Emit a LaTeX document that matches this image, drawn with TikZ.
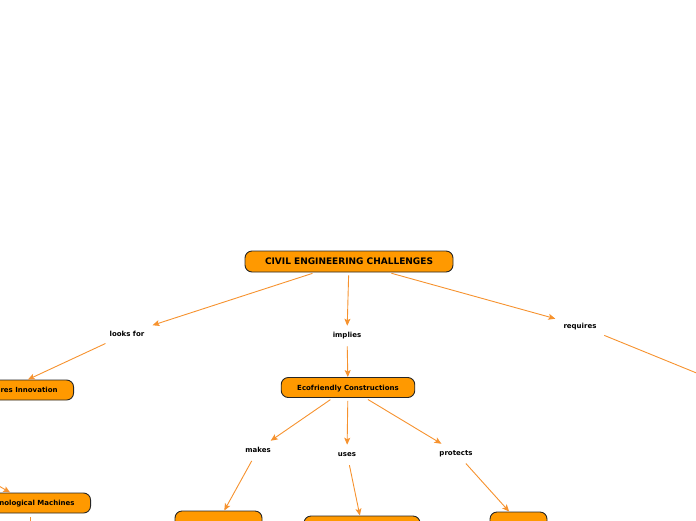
\documentclass[tikz,border=0pt]{standalone}
\usepackage{fontspec}
\newfontfamily\mapfont{DejaVu Sans}
\usetikzlibrary{arrows.meta,positioning}
\definecolor{conceptfill}{RGB}{255,153,0}
\definecolor{linkorange}{RGB}{246,146,46}

\begin{document}
\begin{tikzpicture}[
    x=1pt, y=-1pt,
    % --- STYLES ---
    concept/.style={
        rectangle, rounded corners=7pt,
        draw=black!85, fill=conceptfill,
        line width=0.9pt,
        minimum height=20pt,
        inner xsep=16pt, inner ysep=2pt,
        text height=5.1pt, text depth=0pt,
        font=\mapfont\bfseries\fontsize{7}{8}\selectfont
    },
    mainconcept/.style={
        concept, minimum height=21pt,
        text height=6.6pt,
        font=\mapfont\bfseries\fontsize{9}{10}\selectfont
    },
    linkword/.style={
        inner xsep=8pt, inner ysep=6pt,
        text height=5.1pt, text depth=0pt,
        font=\mapfont\bfseries\fontsize{7}{8}\selectfont
    },
    link/.style={-{Stealth[length=7pt,width=6pt,inset=1.5pt]}, draw=linkorange, line width=0.9pt, shorten <=3pt},
    plainlink/.style={draw=linkorange, line width=0.9pt, shorten <=3pt}
]

% ===== 1. FRAME =====
\useasboundingbox (0,0) rectangle (696,520);
\clip (0,0) rectangle (696,520);

% ===== 2. CONCEPTS =====
\node[mainconcept, minimum width=208pt] (root) at (349,261.5) {CIVIL ENGINEERING CHALLENGES};

\node[concept, minimum width=132pt] (eco) at (348,387.5) {Ecofriendly Constructions};

% Knoten am linken Rand (abgeschnitten)
\node[concept, anchor=east] (innov) at (74,390) {Infrastructures Innovation};
\node[concept, anchor=east] (techm) at (91,503) {Technological Machines};

% Knoten am unteren Rand (abgeschnitten)
\node[concept, minimum width=87pt] (bot1) at (218.5,521) {};
\node[concept, minimum width=116pt] (bot2) at (362,526) {};
\node[concept, minimum width=57pt] (bot3) at (518.5,522) {};

% ===== 3. LINKING WORDS =====
\node[linkword] (looks) at (127,333.5) {looks for};
\node[linkword] (implies) at (347,334.5) {implies};
\node[linkword] (requires) at (580,325.5) {requires};

\node[linkword] (makes) at (258,449.5) {makes};
\node[linkword] (uses) at (347,453.5) {uses};
\node[linkword] (protects) at (456,452.5) {protects};

% Enden ausserhalb des Bildes
\coordinate (offright) at (780,407);
\coordinate (offleft) at (-25,472);
\coordinate (offbelow) at (30,560);

% ===== 4. CONNECTIONS =====
\draw[link] (root) -- (looks);
\draw[link] (root) -- (implies);
\draw[link] (root) -- (requires);

\draw[link] (looks) -- (innov);
\draw[link] (implies) -- (eco);
\draw[plainlink] (requires) -- (offright);

\draw[link] (eco) -- (makes);
\draw[link] (eco) -- (uses);
\draw[link] (eco) -- (protects);

\draw[link] (makes) -- (bot1);
\draw[link] (uses) -- (bot2);
\draw[link] (protects) -- (bot3);

\draw[link] (offleft) -- (techm);
\draw[plainlink, shorten <=4pt] (techm.south -| 30,0) -- (offbelow);

\end{tikzpicture}
\end{document}
